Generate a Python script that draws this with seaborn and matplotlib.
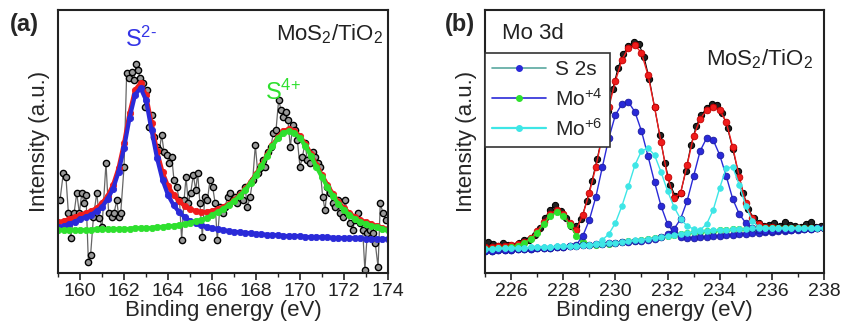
import numpy as np
import matplotlib
matplotlib.use('Agg')
from matplotlib import pyplot as plt
from matplotlib.lines import Line2D
from matplotlib.ticker import MultipleLocator
import seaborn as sns

# ---------------- panel (a): S 2p region ----------------
a_fit_x = np.linspace(159.0, 174.0, 61)   # 0.25 eV grid of the fitted curves
a_s2_fit = [46, 47, 49, 51, 54, 56, 58, 62, 66, 74,
            84, 101, 125, 155, 178, 185, 173, 143, 115, 93,
            78, 68, 61, 56, 52, 50, 48, 46, 45, 44,
            43, 42, 41, 41, 40, 40, 39, 39, 38, 38,
            38, 37, 37, 37, 37, 36, 36, 36, 36, 36,
            35, 35, 35, 35, 35, 35, 34, 34, 34, 34, 34]
a_s4_fit = [43, 43, 43, 43, 43, 43, 43, 44, 44, 44,
            44, 44, 44, 44, 45, 45, 45, 45, 46, 46,
            47, 47, 48, 49, 50, 52, 53, 55, 58, 61,
            64, 68, 72, 77, 83, 90, 98, 107, 117, 127,
            135, 140, 142, 140, 135, 127, 117, 106, 96, 86,
            77, 69, 63, 58, 54, 51, 49, 47, 46, 44, 43]
a_envelope = [51, 52, 54, 56, 58, 60, 62, 65, 70, 77,
              88, 105, 130, 160, 183, 190, 178, 150, 122, 101,
              87, 78, 72, 67, 64, 62, 61, 61, 62, 64,
              66, 69, 73, 78, 84, 91, 99, 108, 118, 128,
              136, 142, 144, 142, 137, 129, 119, 108, 98, 88,
              79, 71, 65, 60, 56, 53, 51, 49, 47, 45, 44]
a_data_x = [159.09, 159.24, 159.36, 159.47, 159.58, 159.73, 159.85, 159.97, 160.08, 160.18,
            160.27, 160.38, 160.48, 160.61, 160.76, 160.88, 161.0, 161.18, 161.3, 161.44,
            161.55, 161.67, 161.76, 161.85, 162.0, 162.12, 162.24, 162.35, 162.45, 162.55,
            162.64, 162.73, 162.85, 162.95, 163.06, 163.15, 163.26, 163.36, 163.48, 163.61,
            163.71, 163.82, 163.94, 164.06, 164.17, 164.27, 164.39, 164.52, 164.62, 164.73,
            164.82, 164.92, 165.03, 165.15, 165.26, 165.35, 165.45, 165.56, 165.67, 165.79,
            165.91, 166.03, 166.14, 166.24, 166.36, 166.48, 166.59, 166.71, 166.82, 166.94,
            167.05, 167.15, 167.27, 167.39, 167.5, 167.61, 167.73, 167.85, 167.97, 168.08,
            168.18, 168.3, 168.42, 168.55, 168.67, 168.79, 168.91, 169.03, 169.14, 169.24,
            169.35, 169.45, 169.56, 169.67, 169.77, 169.88, 170.0, 170.11, 170.23, 170.33,
            170.45, 170.58, 170.68, 170.8, 170.91, 171.03, 171.14, 171.24, 171.36, 171.48,
            171.59, 171.71, 171.82, 171.94, 172.05, 172.15, 172.27, 172.39, 172.5, 172.62,
            172.73, 172.85, 172.95, 173.06, 173.18, 173.3, 173.42, 173.55, 173.65, 173.77,
            173.89]
a_data_y = [73, 100, 96, 60, 35, 60, 80, 60, 80, 70,
            78, 11, 18, 56, 80, 55, 46, 110, 60, 56,
            60, 73, 56, 60, 106, 200, 195, 201, 193, 209,
            203, 195, 190, 166, 183, 146, 158, 136, 126, 123,
            138, 121, 118, 110, 116, 93, 86, 73, 33, 73,
            96, 70, 80, 98, 83, 100, 70, 36, 76, 73,
            93, 86, 70, 33, 66, 60, 66, 76, 80, 73,
            76, 70, 80, 73, 86, 66, 76, 93, 128, 100,
            105, 113, 106, 121, 126, 140, 143, 173, 163, 156,
            161, 153, 126, 148, 143, 133, 106, 116, 130, 113,
            110, 121, 116, 110, 106, 76, 63, 86, 80, 70,
            66, 73, 60, 56, 73, 60, 50, 43, 53, 60,
            50, 43, 3, 40, 43, 40, 30, 6, 70, 60,
            53]
a_ticks = [160, 162, 164, 166, 168, 170, 172, 174]

# ---------------- panel (b): Mo 3d region ----------------
b_fit_x = np.linspace(225.0, 238.0, 53)
b_envelope = [26, 26, 26.5, 27, 27.5, 28.5, 31, 35, 42, 51,
              59, 63, 59, 50, 43, 58, 80, 106, 137, 166,
              192, 213, 225, 228, 220, 198, 166, 131, 96, 75,
              80, 108, 137, 154, 163, 166, 163, 151, 126, 96,
              70, 55, 49, 46, 45.5, 45, 45, 45, 45, 45,
              45, 45, 45]
b_s2s = [24, 24, 25, 25, 26, 27, 30, 34, 40, 49,
         57, 61, 57, 48, 37, 31, 28, 28, 28.5, 29,
         30, 31, 31.5, 32, 33, 34, 35, 36, 37, 38,
         39, 39.5, 40.5, 41, 41.5, 42, 42.5, 43, 43.5, 43.5,
         44, 44, 44.5, 44.5, 45, 45, 45, 45, 45, 45,
         45, 45, 45]
b_mo4_52 = [22, 22, 22.5, 23, 23, 23.5, 24, 24, 24.5, 25,
            25, 25.5, 26, 27, 28, 37, 53, 76, 106, 135,
            158, 169, 171, 161, 142, 117, 91, 67, 49, 40,
            36, 35, 35, 35.5, 36, 36.5, 37, 37.5, 38, 38.5,
            39, 39.5, 40, 40.5, 41, 41.5, 42, 42.5, 43, 43.5,
            44, 44.5, 45]
b_mo4_32 = [22, 22, 22.5, 23, 23, 23.5, 24, 24, 24.5, 25,
            25, 25.5, 26, 26.5, 27, 27.5, 28, 28.5, 29, 29.5,
            30, 30.5, 31, 31.5, 32, 33, 34, 36, 39, 44,
            54, 72, 97, 122, 135, 133, 118, 97, 74, 59,
            50, 45, 43, 42, 42, 42.5, 43, 43, 43.5, 44,
            44, 44.5, 45]
b_mo6_52 = [24, 24, 24.5, 24.5, 25, 25, 25, 25.5, 25.5, 26,
            26, 26.5, 26.5, 27, 27, 27.5, 28, 29, 33, 39,
            50, 67, 87, 108, 122, 125, 118, 101, 82, 66,
            54, 47, 44, 42, 42, 42.5, 43, 43, 43.5, 44,
            44, 44.5, 44.5, 45, 45, 45, 45, 45, 45, 45,
            45, 45, 45]
b_mo6_32 = [24, 24, 24.5, 24.5, 25, 25, 25, 25.5, 25.5, 26,
            26, 26.5, 26.5, 27, 27, 27.5, 28, 28.5, 29, 29.5,
            30, 31, 31.5, 32.5, 33, 34, 35, 36, 37, 38,
            39, 40, 41, 43, 49, 63, 85, 105, 106, 88,
            67, 52, 46, 45, 45, 45, 45, 45, 45, 45,
            45, 45, 45]
b_data_x = np.linspace(225.1, 237.9, 65)
b_data_y = [31, 29, 27, 30, 28, 27, 30, 33, 33, 38,
            45, 55, 63, 68, 62, 55, 47, 47, 54, 72,
            92, 114, 138, 162, 184, 205, 219, 227, 231, 229,
            216, 194, 166, 138, 110, 88, 77, 80, 102, 128,
            147, 158, 165, 169, 168, 160, 145, 124, 102, 80,
            64, 55, 50, 47, 48, 50, 47, 51, 48, 47,
            46, 49, 51, 46, 47]
b_ticks = [226, 228, 230, 232, 234, 236, 238]
legend_labels = ['S 2s', r'Mo$^{\text{+4}}$', r'Mo$^{\text{+6}}$']

RED = '#f01c1c'
BLUE = '#2a2ad8'
GREEN = '#2ee02e'
CYAN = '#3ee6e6'

sns.set_style('ticks')
plt.rcParams['font.family'] = ['Liberation Sans', 'DejaVu Sans']
plt.rcParams['mathtext.fontset'] = 'custom'
plt.rcParams['mathtext.rm'] = 'Liberation Sans'
plt.rcParams['mathtext.it'] = 'Liberation Sans'
plt.rcParams['mathtext.default'] = 'regular'


def fit_curve(ax, x, y, color, lw, ms, edge=None):
    sns.lineplot(x=x, y=y, ax=ax, color=color, linewidth=lw, marker='o',
                 markersize=ms, markeredgecolor=edge or color,
                 markeredgewidth=0.6, sort=False, estimator=None)


def style_axis(ax, xlim, ticks):
    ax.set_xlim(*xlim)
    ax.set_ylim(0, 263)
    ax.set_yticks([])
    ax.set_xticks(ticks)
    ax.xaxis.set_minor_locator(MultipleLocator(1))
    ax.tick_params(axis='x', which='major', direction='out', length=5,
                   width=1.2, labelsize=14, pad=2, colors='#222')
    ax.tick_params(axis='x', which='minor', direction='out', length=3, width=1.0)
    for sp in ax.spines.values():
        sp.set_visible(True)
        sp.set_linewidth(1.5)
        sp.set_color('#222')
    ax.set_xlabel('Binding energy (eV)', fontsize=16, labelpad=0)
    ax.set_ylabel('Intensity (a.u.)', fontsize=16, labelpad=6)


fig = plt.figure(figsize=(8.46, 3.28), dpi=100)
ax_a = fig.add_axes([0.0686, 0.1677, 0.39, 0.8018])
ax_b = fig.add_axes([0.5733, 0.1677, 0.4007, 0.8018])

# (a)
sns.lineplot(x=a_data_x, y=a_data_y, ax=ax_a, color='#666666', linewidth=0.9,
             marker='o', markersize=4.5, markerfacecolor='#9a9a9a',
             markeredgecolor='black', markeredgewidth=1.0, sort=False, estimator=None)
fit_curve(ax_a, a_fit_x, a_envelope, RED, 3.0, 4.5)
fit_curve(ax_a, a_fit_x, a_s2_fit, BLUE, 3.0, 4.5)
fit_curve(ax_a, a_fit_x, a_s4_fit, GREEN, 3.0, 4.5)
style_axis(ax_a, (159, 174), a_ticks)
ax_a.text(0.203, 0.859, r'S$^{\text{2-}}$', transform=ax_a.transAxes, color='#3434e6',
          fontsize=17, ha='left', va='baseline')
ax_a.text(0.627, 0.658, r'S$^{\text{4+}}$', transform=ax_a.transAxes, color='#2ee02e',
          fontsize=17, ha='left', va='baseline')
ax_a.text(0.985, 0.886, r'MoS$_2$/TiO$_2$', transform=ax_a.transAxes, color='#222',
          fontsize=16, ha='right', va='baseline')
fig.text(0.012, 0.924, '(a)', fontsize=17, fontweight='bold', ha='left', va='center')

# (b)
sns.lineplot(x=b_data_x, y=b_data_y, ax=ax_b, color='black', linewidth=0.8,
             marker='o', markersize=4.5, markerfacecolor='#222222',
             markeredgecolor='black', sort=False, estimator=None)
fit_curve(ax_b, b_fit_x, b_envelope, RED, 1.0, 4.8, '#c00000')
fit_curve(ax_b, b_fit_x, b_s2s, GREEN, 1.0, 4.5)
fit_curve(ax_b, b_fit_x, b_mo4_52, BLUE, 1.0, 4.8, '#1a1aa0')
fit_curve(ax_b, b_fit_x, b_mo4_32, BLUE, 1.0, 4.8, '#1a1aa0')
fit_curve(ax_b, b_fit_x, b_mo6_52, CYAN, 1.0, 4.0)
fit_curve(ax_b, b_fit_x, b_mo6_32, CYAN, 1.0, 4.0)
style_axis(ax_b, (225, 238), b_ticks)
ax_b.text(0.05, 0.89, 'Mo 3d', transform=ax_b.transAxes, color='#222',
          fontsize=16, ha='left', va='baseline')
ax_b.text(0.968, 0.79, r'MoS$_2$/TiO$_2$', transform=ax_b.transAxes, color='#222',
          fontsize=16, ha='right', va='baseline')
fig.text(0.526, 0.924, '(b)', fontsize=17, fontweight='bold', ha='left', va='center')

handles = [
    Line2D([], [], color='#5aa8a0', lw=1.2, marker='o', ms=4, mfc=BLUE, mec=BLUE),
    Line2D([], [], color=BLUE, lw=1.2, marker='o', ms=4, mfc=GREEN, mec=GREEN),
    Line2D([], [], color=CYAN, lw=1.6, marker='o', ms=4, mfc=CYAN, mec=CYAN),
]
leg = ax_b.legend(handles, legend_labels, loc='upper left', bbox_to_anchor=(0.0, 0.837),
                  borderaxespad=0, fontsize=15, handlelength=2.6, handletextpad=0.4,
                  labelspacing=0.4, borderpad=0.35, fancybox=False, framealpha=1)
leg.get_frame().set_edgecolor('#333')
leg.get_frame().set_linewidth(1.2)

fig.savefig('out.png', dpi=100)
